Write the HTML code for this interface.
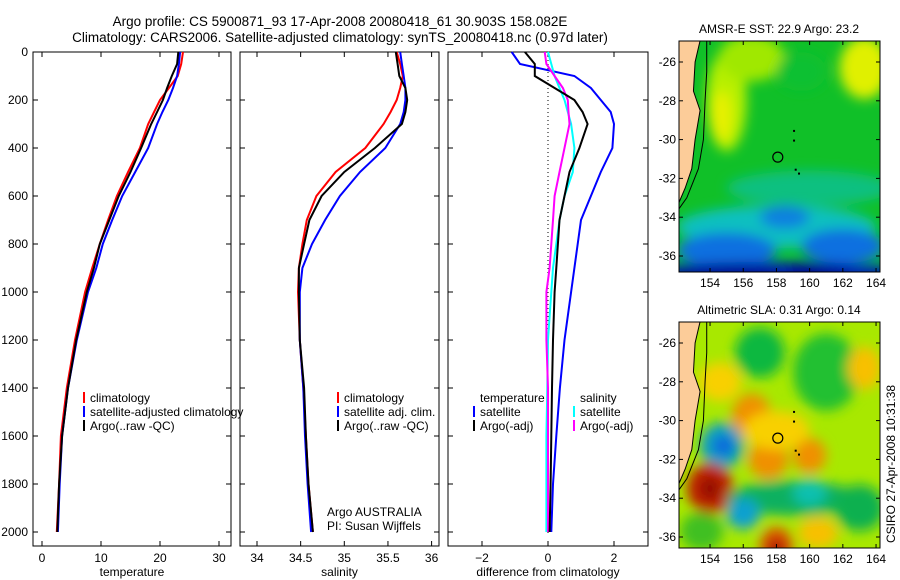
<!DOCTYPE html>
<html><head><meta charset="utf-8"><style>
body{margin:0;background:#fff;}
svg{display:block;font-family:"Liberation Sans",sans-serif;}
</style></head><body>
<svg id="chart" width="900" height="580" viewBox="0 0 900 580">
<defs>
<filter id="blur1" x="-20%" y="-20%" width="140%" height="140%"><feGaussianBlur stdDeviation="6"/></filter>
<clipPath id="clipTop"><rect x="679" y="41" width="201" height="231"/></clipPath>
<clipPath id="clipBot"><rect x="679" y="322" width="201" height="226"/></clipPath>
</defs>
<g font-size="13.5" text-anchor="middle">
<text x="340" y="26">Argo profile: CS 5900871_93 17-Apr-2008 20080418_61 30.903S 158.082E</text>
<text x="340" y="42">Climatology: CARS2006. Satellite-adjusted climatology: synTS_20080418.nc (0.97d later)</text>
</g>
<g id="panels"></g>
<g id="maps"></g>
</svg>
<script>
const depths=[0,50,100,150,200,250,300,400,500,600,700,800,900,1000,1200,1400,1600,1800,2000];
const tempClim=[23.9,23.6,23.0,21.5,20.0,19.0,18.0,16.6,14.6,12.7,11.2,9.8,8.5,7.3,5.6,4.2,3.2,2.9,2.5];
const tempSat=[23.4,23.2,22.9,22.2,21.4,20.4,19.5,18.0,15.8,13.6,11.9,10.3,9.2,7.8,5.9,4.4,3.4,3.0,2.7];
const tempArgo=[23.1,22.9,22.0,21.2,20.5,19.5,18.5,16.8,15.0,13.0,11.4,9.8,8.8,7.6,5.8,4.4,3.4,2.9,2.6];
const salClim=[35.6,35.64,35.67,35.64,35.6,35.53,35.45,35.24,34.9,34.68,34.57,34.52,34.48,34.47,34.49,34.53,34.56,34.59,34.64];
const salSat=[35.64,35.66,35.68,35.7,35.7,35.68,35.64,35.47,35.18,34.95,34.78,34.63,34.52,34.49,34.49,34.53,34.55,34.58,34.62];
const salArgo=[35.59,35.61,35.63,35.7,35.72,35.7,35.66,35.35,35.0,34.74,34.6,34.54,34.48,34.48,34.49,34.54,34.56,34.59,34.64];
const dTempSat=[-1.1,-0.85,0.8,1.3,1.6,1.9,2.0,1.95,1.6,1.3,1.0,0.9,0.8,0.7,0.5,0.36,0.25,0.15,0.1];
const dTempArgo=[-0.7,-0.4,-0.4,0.2,0.8,1.05,1.2,0.95,0.65,0.5,0.35,0.3,0.25,0.2,0.15,0.12,0.1,0.08,0.05];
const dSalSat=[0,0.1,0.2,0.35,0.5,0.6,0.7,0.8,0.75,0.5,0.35,0.25,0.15,0.1,0,-0.02,-0.05,-0.05,-0.05];
const dSalArgo=[-0.1,-0.05,0.2,0.45,0.6,0.62,0.65,0.5,0.35,0.2,0.15,0.1,0.05,-0.05,-0.05,0,0,0,0];
const depthTicks=[0,200,400,600,800,1000,1200,1400,1600,1800,2000];
const tempTicks=[0,10,20,30];
const salTicks=[34,34.5,35,35.5,36];
const salTickLabels=["34","34.5","35","35.5","36"];
const diffTicks=[-2,0,2];
const lonTicks=[154,156,158,160,162,164];
const latTicks=[-26,-28,-30,-32,-34,-36];

const NS="http://www.w3.org/2000/svg";
function mk(tag,attrs,parent,text){const e=document.createElementNS(NS,tag);for(const k in attrs)e.setAttribute(k,attrs[k]);if(text!==undefined)e.textContent=text;parent.appendChild(e);return e;}
const yD=d=>52+d*0.24;
const panelsG=document.getElementById('panels');
const panels=[
 {name:'temperature',x0:33,x1:231,sx:v=>42+v*5.9,ticks:tempTicks,labels:tempTicks.map(String),label:'temperature',
  series:[[tempClim,'#f00','climatology'],[tempSat,'#00f','satellite-adjusted climatology'],[tempArgo,'#000','argo']]},
 {name:'salinity',x0:240,x1:439,sx:v=>257+(v-34)*87.3,ticks:salTicks,labels:salTickLabels,label:'salinity',
  series:[[salClim,'#f00','climatology'],[salSat,'#00f','satellite-adj'],[salArgo,'#000','argo']]},
 {name:'difference',x0:448,x1:648,sx:v=>548+v*33,ticks:diffTicks,labels:diffTicks.map(v=>v<0?'\u2212'+(-v):String(v)),label:'difference from climatology',
  series:[[dTempSat,'#00f','temp-satellite'],[dSalSat,'#0ff','sal-satellite'],[dSalArgo,'#f0f','sal-argo'],[dTempArgo,'#000','temp-argo']]}
];
panels.forEach((p,pi)=>{
 const g=mk('g',{},panelsG);
 
 
 const ax=mk('rect',{x:p.x0,y:52,width:p.x1-p.x0,height:494,fill:'none',stroke:'#000','stroke-width':1},g);
 
 
 p.ticks.forEach((t,i)=>{const x=p.sx(t);
  mk('line',{x1:x,y1:546,x2:x,y2:541,stroke:'#000'},g);mk('line',{x1:x,y1:52,x2:x,y2:57,stroke:'#000'},g);
  const tl=mk('text',{x:x,y:562,'font-size':12,'text-anchor':'middle'},g,p.labels[i]);
  
  });
 depthTicks.forEach(d=>{const y=yD(d);
  mk('line',{x1:p.x0,y1:y,x2:p.x0+5,y2:y,stroke:'#000'},g);mk('line',{x1:p.x1,y1:y,x2:p.x1-5,y2:y,stroke:'#000'},g);
  if(pi===0){const tl=mk('text',{x:28,y:y+4,'font-size':12,'text-anchor':'end'},g,String(d));
   
   }});
 const xl=mk('text',{x:(p.x0+p.x1)/2,y:576,'font-size':12,'text-anchor':'middle'},g,p.label);
 
 
 if(pi===2){mk('line',{x1:p.sx(0),y1:52,x2:p.sx(0),y2:535,stroke:'#000','stroke-dasharray':'1,3'},g);}
 p.series.forEach(s=>{
  const pts=depths.map((d,i)=>p.sx(s[0][i]).toFixed(1)+','+yD(d).toFixed(1)).join(' ');
  const pl=mk('polyline',{points:pts,fill:'none',stroke:s[1],'stroke-width':2},g);
  
  });
});
function legend(x,y,items,name){const g=mk('g',{},panelsG);
 
 
 items.forEach((it,i)=>{const yy=y+i*14;
  if(it[1])mk('rect',{x:x,y:yy-10,width:2,height:11,fill:it[1]},g);
  mk('text',{x:x+7,y:yy,'font-size':12},g,it[0]);});}
legend(83,402,[['climatology','#f00'],['satellite-adjusted climatology','#00f'],['Argo(..raw -QC)','#000']],'temperature-legend');
legend(337,402,[['climatology','#f00'],['satellite adj. clim.','#00f'],['Argo(..raw -QC)','#000']],'salinity-legend');
legend(473,402,[['temperature',null],['satellite','#00f'],['Argo(-adj)','#000']],'difference-temperature-legend');
legend(573,402,[['salinity',null],['satellite','#0ff'],['Argo(-adj)','#f0f']],'difference-salinity-legend');
{const t=mk('text',{x:327,y:516,'font-size':12},panelsG,'Argo AUSTRALIA');
 const t2=mk('text',{x:327,y:530,'font-size':12},panelsG,'PI: Susan Wijffels');}

const mapsG=document.getElementById('maps');
const lonX=l=>679+(l-152.13)*16.6;
function drawMap(top,bottom,lat0y,title,clip,base,blobs,name){
 const latY=l=>lat0y+(-26-l)*19.4;
 const g=mk('g',{},mapsG);
 
 
 const tt=mk('text',{x:779,y:top-8,'font-size':12,'text-anchor':'middle'},g,title);
 
 
 const cg=mk('g',{'clip-path':'url(#'+clip+')'},g);
 mk('rect',{x:679,y:top,width:201,height:bottom-top,fill:base},cg);
 const bg=mk('g',{filter:'url(#blur1)'},cg);
 blobs.forEach(b=>mk('ellipse',{cx:lonX(b[0]),cy:latY(b[1]),rx:b[2]*16.6,ry:b[3]*19.4,fill:b[4]},bg));
 const land=[[152,-24.9],[153.4,-24.9],[153.1,-26],[153.0,-27.5],[153.4,-28.5],[153.1,-30],[152.9,-31.5],[152.5,-32.5],[152.1,-33.3]];
 mk('polygon',{points:'679,'+top+' '+land.map(p=>lonX(p[0])+','+latY(p[1])).join(' ')+' 679,'+latY(-33.3),fill:'#fccc99',stroke:'#000','stroke-width':1},cg);
 const shelf=[[153.8,-24.9],[153.8,-26.5],[153.7,-28],[153.6,-30],[153.3,-31.5],[152.6,-33],[152.1,-33.6]];
 mk('polyline',{points:shelf.map(p=>lonX(p[0])+','+latY(p[1])).join(' '),fill:'none',stroke:'#000','stroke-width':1},cg);
 mk('circle',{cx:lonX(158.082),cy:latY(-30.903),r:5,fill:'none',stroke:'#000','stroke-width':1.2},cg);
 [[159,-29.5],[159,-30],[159.1,-31.5],[159.3,-31.7]].forEach(p=>mk('rect',{x:lonX(p[0]),y:latY(p[1]),width:2,height:2,fill:'#000'},cg));
 mk('rect',{x:679,y:top,width:201,height:bottom-top,fill:'none',stroke:'#000'},g);
 lonTicks.forEach(l=>{const x=lonX(l);mk('line',{x1:x,y1:bottom,x2:x,y2:bottom-4,stroke:'#000'},g);mk('line',{x1:x,y1:top,x2:x,y2:top+4,stroke:'#000'},g);
  const tl=mk('text',{x:x,y:bottom+15,'font-size':12,'text-anchor':'middle'},g,String(l));
  
  });
 latTicks.forEach(l=>{const y=latY(l);mk('line',{x1:679,y1:y,x2:683,y2:y,stroke:'#000'},g);mk('line',{x1:880,y1:y,x2:876,y2:y,stroke:'#000'},g);
  const tl=mk('text',{x:676,y:y+4,'font-size':12,'text-anchor':'end'},g,String(l));
  
  });
}
drawMap(41,272,62,'AMSR-E SST: 22.9 Argo: 23.2','clipTop','#10c028',[
 [155,-28,1.2,2.6,'#b8f000'],[154.7,-28.8,0.6,1.3,'#e8f000'],[156.5,-25.8,2,1.2,'#a0e800'],[163.3,-26.3,1.5,1.6,'#e0f000'],
 [159.5,-26.5,1.5,1,'#10c030'],[160,-32.5,5,0.9,'#10c080'],[158,-34.5,6,1.1,'#10c0c0'],[158.5,-34,1.5,0.6,'#1080e0'],
 [155,-35.7,3,0.9,'#0870e0'],[162,-35.5,2.5,0.9,'#0870e0'],[158,-37,9,0.7,'#0020b0'],[155,-36.8,3,0.4,'#000090'],[160.5,-36.8,2,0.4,'#000090']],'sst-map');
drawMap(322,548,343,'Altimetric SLA: 0.31 Argo: 0.14','clipBot','#a8e800',[
 [157,-26.5,1.5,1.3,'#10b840'],[161,-27.5,2,2,'#20c030'],[163.3,-27.3,1,1.1,'#f8c000'],[154.6,-28,1.3,1,'#f8d000'],
 [156.5,-29.8,1.2,1.2,'#f09000'],[157.5,-32,1.2,1,'#f09000'],[160,-31.8,1,0.9,'#f09000'],[158,-30.5,2,1,'#f8d000'],
 [154.7,-31.3,1.3,1.2,'#10a0c0'],[154.8,-31.3,0.6,0.5,'#1060e0'],[154,-33.5,1.4,1.3,'#c02000'],[154,-33.5,0.6,0.6,'#901000'],
 [159,-34,4,0.9,'#10b060'],[160,-33.7,1,0.7,'#10c0b0'],[156,-34.8,1,0.8,'#10a0d0'],[163,-34.5,1.5,1.2,'#10b050'],
 [158,-36.5,1,1,'#e05000'],[158,-36.6,0.5,0.5,'#a01000'],[160.5,-35.8,1.2,0.8,'#f8c000'],[153.5,-35.7,1.3,1,'#40c020']],'sla-map');
{const t=mk('text',{x:0,y:0,'font-size':12,'text-anchor':'middle',transform:'translate(895,464) rotate(-90)'},mapsG,'CSIRO 27-Apr-2008 10:31:38');
 
 }
</script>
</body></html>
